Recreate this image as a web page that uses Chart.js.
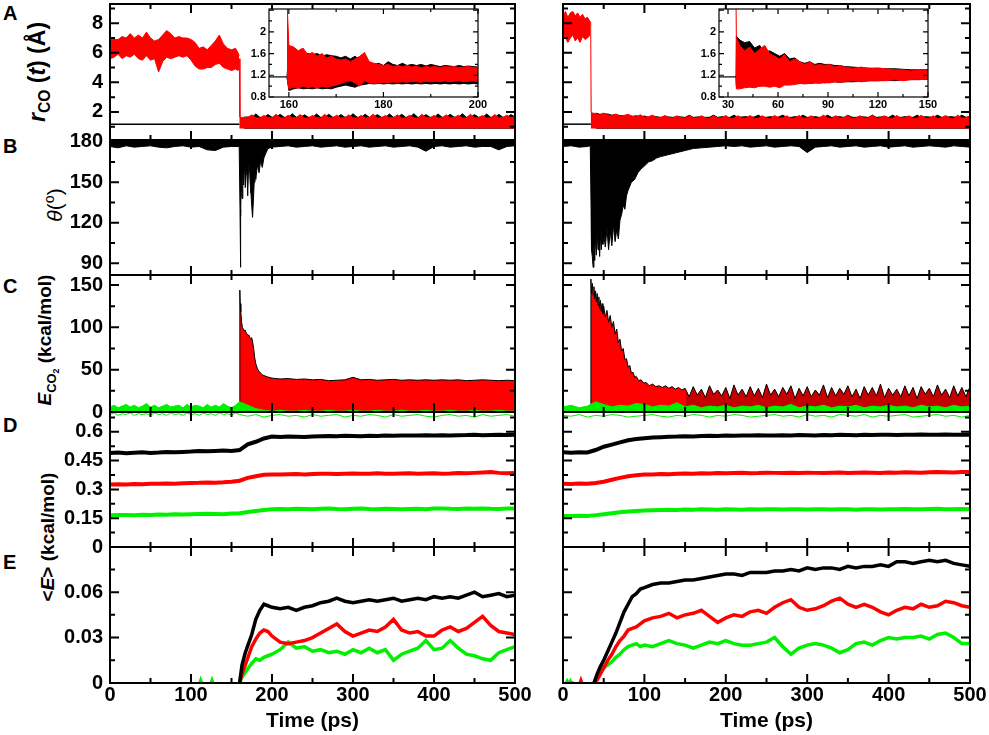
<!DOCTYPE html>
<html lang="en">
<head>
<meta charset="UTF-8">
<script src="https://cdn.jsdelivr.net/npm/chart.js"></script>
<style>
  body { margin:0; background:#fff; width:989px; height:735px; position:relative; overflow:hidden;
         font-family:'Liberation Sans', Arial, Helvetica, sans-serif; color:#000; }
  canvas { position:absolute; }
  .tag { position:absolute; font-weight:bold; font-size:20px; line-height:20px; }
  .ylab { position:absolute; transform:translate(-50%,-50%) rotate(-90deg); white-space:nowrap; font-weight:bold; line-height:1; }
  .ylab sub { font-size:0.68em; line-height:0; vertical-align:-0.35em; }
  .ylab sup { font-size:0.68em; line-height:0; vertical-align:0.55em; }
</style>
</head>
<body>
<div class="tag" style="left:3px;top:3px">A</div>
<div class="tag" style="left:3px;top:136px">B</div>
<div class="tag" style="left:3px;top:276px">C</div>
<div class="tag" style="left:3px;top:415px">D</div>
<div class="tag" style="left:3px;top:552px">E</div>

<div class="ylab" style="left:37px;top:72px;font-size:23px"><i>r</i><sub>CO</sub> (<i>t</i>) (Å)</div>
<div class="ylab" style="left:54px;top:205px;font-size:21px;font-weight:normal"><i>θ</i>(<sup>o</sup>)</div>
<div class="ylab" style="left:45px;top:340px;font-size:19px"><i>E</i><sub>CO<sub>2</sub></sub> (kcal/mol)</div>
<div class="ylab" style="left:47px;top:537px;font-size:19px">&lt;<i>E</i>&gt; (kcal/mol)</div>

<script>
// time grids (ps)
const t5 = [0,5,10,15,20,25,30,35,40,45,50,55,60,65,70,75,80,85,90,95,
  100,105,110,115,120,125,130,135,140,145,150,155,160,165,170,175,180,185,190,195,
  200,205,210,215,220,225,230,235,240,245,250,255,260,265,270,275,280,285,290,295,
  300,305,310,315,320,325,330,335,340,345,350,355,360,365,370,375,380,385,390,395,
  400,405,410,415,420,425,430,435,440,445,450,455,460,465,470,475,480,485,490,495,500];
const t10 = [0,10,20,30,40,50,60,70,80,90,100,110,120,130,140,150,160,170,180,190,
  200,210,220,230,240,250,260,270,280,290,300,310,320,330,340,350,360,370,380,390,
  400,410,420,430,440,450,460,470,480,490,500];

// tick labels
const ticksA = [2,4,6,8];
const ticksB = [90,120,150,180];
const ticksC = [0,50,100,150];
const ticksD = [0,0.15,0.3,0.45,0.6];
const ticksE = [0,0.03,0.06];
const ticksTime = [0,100,200,300,400,500];
const ticksInsetY = [0.8,1.2,1.6,2];
const ticksInsetL = [160,180,200];
const ticksInsetR = [30,60,90,120,150];

// ---- A: r_CO(t), left run ----
const tRcoPreL = t5.slice(0,32).concat([158,159.5]);
const rcoRedHiPreL = [7.1,6.9,6.9,7.1,7.0,7.3,7.0,7.2,7.0,7.4,7.0,6.8,6.9,7.2,7.5,7.3,7.0,7.1,7.0,7.0,
  6.9,6.7,6.3,6.4,6.2,6.5,6.8,7.2,6.6,6.3,6.2,6.3,6.0,5.8];
const rcoRedLoPreL = [5.6,5.7,5.9,5.6,5.8,5.7,5.9,5.6,5.5,5.8,5.5,5.6,4.7,5.4,5.7,5.6,5.7,5.8,5.7,5.8,
  5.5,5.1,4.9,4.9,5.0,5.0,5.2,5.3,5.0,4.9,4.8,4.9,4.8,4.9];
const tRcoPostL = [159.6,160.4].concat(t5.slice(33));
const rcoRedHiPostL = [5.6,1.65,
  1.60,1.62,1.80,1.60,1.58,1.76,1.62,1.60,1.84,1.60,
  1.58,1.78,1.60,1.62,1.82,1.58,1.60,1.76,1.62,1.58,
  1.84,1.60,1.60,1.78,1.58,1.62,1.80,1.60,1.58,1.76,
  1.60,1.62,1.85,1.58,1.60,1.76,1.60,1.62,1.80,1.58,
  1.60,1.78,1.60,1.58,1.84,1.62,1.60,1.76,1.58,1.60,
  1.80,1.60,1.62,1.78,1.58,1.60,1.84,1.60,1.62,1.76,
  1.58,1.60,1.82,1.60,1.62,1.78,1.60,1.66];
const rcoBlkHiPostL = [
  1.64,1.66,1.62,1.86,1.64,1.62,1.82,1.64,1.62,1.84,
  1.64,1.62,1.88,1.64,1.62,1.80,1.64,1.62,1.86,1.64,
  1.62,1.84,1.64,1.62,1.82,1.64,1.62,1.88,1.64,1.62,
  1.84,1.64,1.62,1.82,1.64,1.62,1.86,1.64,1.62,1.84,
  1.64,1.62,1.88,1.64,1.62,1.82,1.64,1.62,1.86,1.64,
  1.62,1.84,1.64,1.62,1.88,1.64,1.62,1.82,1.64,1.62,
  1.86,1.64,1.62,1.84,1.64,1.62,1.82,1.66];

// ---- A: r_CO(t), right run ----
const tRcoPreR = [0,3,6,9,12,15,18,21,24,27,30,33.5];
const rcoRedHiPreR = [8.5,8.8,8.4,8.7,8.8,8.5,8.7,8.4,8.6,8.3,8.4,8.1];
const rcoRedLoPreR = [6.9,7.0,6.7,7.0,7.2,6.8,7.0,6.7,7.1,6.9,7.0,7.2];
const tRcoPostR = [34.0,34.6].concat(t5.slice(8));
const rcoRedHiPostR = [8.1,1.95,
  1.88,1.78,1.92,1.80,1.74,1.86,1.72,1.76,1.84,1.70,
  1.68,1.80,1.64,1.68,1.78,1.62,1.60,1.76,1.62,1.58,
  1.74,1.60,1.58,1.76,1.58,1.60,1.74,1.58,1.56,1.74,
  1.58,1.60,1.76,1.56,1.58,1.74,1.58,1.58,1.76,1.56,
  1.58,1.74,1.58,1.56,1.76,1.58,1.60,1.74,1.56,1.58,
  1.76,1.58,1.58,1.74,1.56,1.60,1.78,1.58,1.56,1.74,
  1.58,1.60,1.76,1.56,1.58,1.74,1.58,1.58,1.78,1.56,
  1.60,1.74,1.58,1.56,1.76,1.58,1.60,1.74,1.56,1.58,
  1.78,1.58,1.58,1.74,1.56,1.60,1.76,1.58,1.56,1.78,
  1.58,1.60,1.74];
const rcoBlkHiPostR = [
  1.92,1.84,1.86,1.86,1.78,1.80,1.76,1.72,1.78,1.70,
  1.74,1.66,1.72,1.64,1.70,1.68,1.63,1.70,1.66,1.63,
  1.68,1.66,1.63,1.78,1.63,1.66,1.68,1.63,1.64,1.78,
  1.63,1.68,1.64,1.63,1.78,1.63,1.66,1.68,1.63,1.66,
  1.78,1.63,1.64,1.68,1.63,1.66,1.78,1.63,1.63,1.68,
  1.64,1.78,1.63,1.66,1.68,1.63,1.64,1.78,1.63,1.66,
  1.68,1.63,1.78,1.64,1.63,1.68,1.66,1.63,1.78,1.63,
  1.66,1.68,1.63,1.78,1.64,1.63,1.68,1.66,1.63,1.78,
  1.63,1.68,1.66,1.63,1.78,1.64,1.63,1.68,1.66,1.63,
  1.78,1.64,1.68];

// ---- A insets ----
const tInsL = [159.6,160,161,162,163,164,165,166,167,168,169,170,171,172,173,174,175,176,177,178,179,
  180,181,182,183,184,185,186,187,188,189,190,191,192,193,194,195,196,197,198,199,200];
const insRedHiL = [2.6,1.75,1.72,1.65,1.7,1.58,1.62,1.55,1.6,1.52,1.55,1.5,1.48,1.5,1.45,1.5,1.55,1.62,1.45,1.42,1.4,
  1.38,1.4,1.36,1.38,1.36,1.38,1.35,1.37,1.34,1.36,1.35,1.36,1.34,1.36,1.35,1.36,1.34,1.35,1.36,1.34,1.35];
const insRedLoL = [1.17,0.95,0.98,0.96,1.0,0.97,0.99,0.96,1.0,0.98,1.0,1.02,1.05,1.08,1.1,1.06,1.0,1.1,1.06,1.05,1.06,
  1.07,1.06,1.08,1.07,1.08,1.07,1.09,1.08,1.07,1.09,1.08,1.09,1.08,1.1,1.08,1.09,1.1,1.08,1.09,1.1,1.08];
const insBlkHiL = [1.17,1.6,1.58,1.6,1.56,1.6,1.58,1.6,1.55,1.58,1.56,1.55,1.52,1.55,1.5,1.55,1.48,1.45,1.42,1.4,1.42,
  1.38,1.45,1.4,1.38,1.42,1.38,1.4,1.38,1.4,1.37,1.4,1.38,1.36,1.38,1.37,1.36,1.38,1.36,1.37,1.36,1.35];
const insBlkLoL = [1.17,0.92,0.95,0.97,0.95,0.96,0.95,0.97,0.95,0.96,0.95,0.98,1.0,1.02,1.0,0.98,1.02,1.03,1.05,1.04,1.05,
  1.04,1.05,1.04,1.05,1.04,1.05,1.04,1.05,1.04,1.05,1.04,1.05,1.04,1.05,1.04,1.05,1.04,1.05,1.04,1.05,1.04];
const tInsR = [34.8,35,37,40,43,46,49,52,55,58,61,64,67,70,73,76,79,82,85,88,91,94,97,
  100,105,110,115,120,125,130,135,140,145,150];
const insRedHiR = [2.6,1.9,1.75,1.65,1.72,1.6,1.68,1.75,1.6,1.55,1.5,1.58,1.45,1.5,1.45,1.4,1.45,1.38,1.4,1.38,1.4,1.35,1.38,
  1.35,1.33,1.35,1.32,1.33,1.32,1.3,1.3,1.28,1.3,1.28];
const insRedLoR = [1.17,0.95,0.95,0.97,0.98,0.97,1.0,1.0,0.98,1.0,0.97,1.02,1.02,1.03,1.05,1.04,1.05,1.06,1.05,1.07,1.06,1.08,1.07,
  1.08,1.1,1.08,1.1,1.1,1.1,1.12,1.1,1.12,1.12,1.13];
const insBlkHiR = [1.17,1.92,1.85,1.8,1.82,1.7,1.75,1.62,1.65,1.6,1.55,1.6,1.5,1.52,1.45,1.42,1.45,1.4,1.42,1.4,1.4,1.38,1.38,
  1.36,1.35,1.34,1.33,1.33,1.32,1.32,1.31,1.3,1.3,1.3];
const insBlkLoR = [1.17,1.0,1.0,1.02,1.0,1.02,1.0,1.03,1.02,1.04,1.03,1.05,1.04,1.05,1.05,1.06,1.05,1.06,1.07,1.06,1.07,1.08,1.07,
  1.08,1.08,1.09,1.1,1.1,1.11,1.1,1.12,1.12,1.12,1.13];

// ---- B: theta, lower edge of the noisy band ----
const tThetaL = [0,10,20,30,40,50,60,70,80,90,100,110,120,130,140,150,159.5,
  160.5,161,161.5,162,163,164,165,166,167,168,169,170,171,172,173,174,175,176,177,178,179,180,
  182,184,186,188,190,192,195].concat(t10.slice(20));
const thetaLoL = [176.5,175.5,177,176,176.5,177,176,175.5,176.5,177,176,176.5,174,173.5,176,176.5,176.5,
  130,87,125,150,138,160,148,165,146,156,162,140,160,164,150,142,132,124,136,150,158,152,
  163,157,166,161,168,171,175,
  176,176.5,177,176,176.5,177,176,176.5,177,176,
  176.5,177,176,176.5,177,176,176.5,177,176,173,
  176.5,177,176,176.5,177,176,176.5,176.5,174,176.5,177];
const tThetaR = [0,10,20,30,33.5,
  34.5,35,36,37,38,39,40,41,42,43,44,45,46,47,48,49,50,
  52,54,56,58,60,62,64,66,68,70,72,74,76,78,80,
  84,88,92,96,100,105,110,115,120,130,140,150,160,170,180,190].concat(t10.slice(20));
const thetaLoR = [176.5,177,176,176.5,177,
  130,100,95,87,105,92,110,96,115,100,108,95,112,100,118,104,112,
  102,116,100,114,103,118,106,115,108,122,126,133,130,140,144,
  150,152,157,160,162,165,166,168,169,170.5,172,173.5,175,175.5,176,176.5,
  177,176.5,177,176,176.5,177,176,176.5,177,176.5,
  172,176,176.5,177,176,176.5,177,176,176.5,177,
  176,176.5,177,176,176.5,177,176.5,176,177,176.5,176];

// ---- C: E_CO2 ----
const tEco2L = [159.8,160.3,160.8,161.5,162.5,163.5,164.5,165.5,166.5,167.5,168.5,169.5,170.5,171.5,172.5,
  173.5,174.5,175.5,176.5,177.5,178.5,180,182,184,186,188,190,193,196,200].concat(t10.slice(21));
const eco2TopL = [0,144,128,118,106,100,98,96,97,95,93,92,91,90,88,87,88,86,86,74,65,57,51,48,46,44,43,42,41,40,
  39,39.5,38.5,39,38,38.5,37,37.5,38,41,38,38.5,37.5,38,38.5,37.5,38,37.5,38,37.5,38,37.5,38,37,37.5,38,37.5,37,37.5,37];
const tEco2R = [33.8,34.3,35,36,37,38,39,40,41,42,43,44,45,46,47,48,49,50,
  52,54,56,58,60,62,64,66,68,70,72,74,76,78,80,82,84,86,88,90,
  93,96,99,102,106,110,114,118,122,126,130,134,138,142,146,150];
const eco2TopR = [0,157,140,152,138,148,134,143,130,140,126,136,122,132,119,128,116,125,
  112,120,106,114,100,107,92,98,82,86,72,75,62,63,53,55,46,47,41,42,
  37,38,34,35,31,33,30,31,29,31,28,30,27,29,26,28];
const tEco2TailR = t5.slice(30);
const eco2TailR = [28,18,30,20,27,17,31,21,26,19, 29,16,32,20,27,18,30,19,28,17,
  33,20,27,18,29,21,31,16,28,19, 30,18,26,20,32,17,29,19,28,21,
  31,18,27,16,30,20,29,19,33,17, 28,20,27,18,31,19,29,16,30,21,
  28,18,32,20,27,17,31,19,29,18, 30];
const tGreenCL = t5.slice(0,33).concat(t10.slice(17));
const greenHiCL = [6,8,5,7,9,6,8,5,7,10,6,8,5,7,9,6,7,8,5,9,6,8,7,5,9,6,8,6,10,7,5,8,12,
  8,4,2,1,2,1,1,2,1,1,2,1,1,2,1,1,2,1,1,2,1,1,2,1,1,2,1,1,2,1,1,2,1,1];
const greenLoCL = [-3,-1,-4,-2,-3,-1,-4,-2,-3,-2,-4,-1,-3,-2,-4,-1,-3,-2,-4,-1,-3,-2,-4,-1,-3,-2,-4,-1,-3,-2,-4,-1,-3,
  -5,-3,-6,-4,-3,-5,-4,-6,-3,-5,-4,-3,-6,-4,-5,-3,-4,-6,-3,-5,-4,-3,-5,-6,-4,-3,-5,-4,-6,-3,-5,-4,-3,-5];
const greenHiCR = [6,8,5,7,12,9,6,8,7,10, 9,6,8,7,11,6,8,5,7,6, 8,5,7,6,8,5,7,6,9,5,
  7,6,8,5,7,6,8,5,7,6, 8,6,7,5,8,6,7,5,8,6, 7];
const greenLoCR = [-4,-5,-3,-6,-4,-5,-3,-4,-6,-5, -4,-3,-5,-6,-4,-5,-3,-4,-6,-4, -5,-3,-4,-6,-5,-4,-3,-5,-4,-6,
  -3,-5,-4,-6,-3,-4,-5,-3,-6,-4, -5,-4,-3,-6,-5,-4,-3,-5,-4,-6, -4];

// ---- D: three averaged energies ----
const dBlackL = [0.490,0.492,0.488,0.491,0.493,0.490,0.492,0.495,0.493,0.495,
  0.497,0.500,0.498,0.500,0.502,0.500,0.505,0.535,0.548,0.565,
  0.575,0.573,0.575,0.574,0.573,0.576,0.577,0.578,0.577,0.579,
  0.578,0.577,0.579,0.578,0.580,0.579,0.580,0.581,0.580,0.582,
  0.581,0.582,0.580,0.582,0.583,0.585,0.582,0.583,0.584,0.583,0.584];
const dRedL = [0.325,0.327,0.326,0.328,0.327,0.329,0.330,0.331,0.330,0.332,
  0.333,0.334,0.336,0.335,0.337,0.340,0.345,0.360,0.368,0.376,
  0.378,0.377,0.379,0.380,0.378,0.380,0.382,0.381,0.380,0.382,
  0.383,0.381,0.382,0.384,0.382,0.381,0.383,0.384,0.382,0.383,
  0.384,0.382,0.383,0.385,0.384,0.386,0.388,0.390,0.386,0.384,0.385];
const dGreenL = [0.165,0.166,0.167,0.165,0.168,0.167,0.169,0.168,0.170,0.169,
  0.171,0.172,0.173,0.172,0.171,0.174,0.176,0.182,0.188,0.193,
  0.196,0.198,0.197,0.199,0.198,0.197,0.199,0.200,0.198,0.197,
  0.199,0.200,0.198,0.197,0.199,0.198,0.196,0.198,0.199,0.197,
  0.200,0.201,0.199,0.198,0.200,0.199,0.201,0.199,0.198,0.200,0.201];
const dBlackR = [0.493,0.491,0.494,0.492,0.505,0.522,0.533,0.545,0.556,0.562,
  0.566,0.570,0.572,0.574,0.575,0.577,0.576,0.578,0.579,0.578,
  0.580,0.579,0.581,0.580,0.582,0.581,0.580,0.582,0.581,0.583,
  0.582,0.581,0.583,0.582,0.584,0.583,0.582,0.584,0.583,0.585,
  0.584,0.583,0.585,0.584,0.586,0.585,0.584,0.586,0.585,0.584,0.585];
const dRedR = [0.330,0.328,0.331,0.329,0.333,0.340,0.350,0.360,0.368,0.374,
  0.377,0.378,0.380,0.379,0.381,0.383,0.382,0.384,0.383,0.385,
  0.384,0.385,0.386,0.384,0.385,0.387,0.386,0.385,0.387,0.386,
  0.387,0.386,0.385,0.387,0.388,0.386,0.387,0.388,0.387,0.386,
  0.388,0.387,0.389,0.388,0.387,0.389,0.390,0.389,0.388,0.390,0.391];
const dGreenR = [0.162,0.161,0.163,0.162,0.166,0.171,0.176,0.181,0.185,0.188,
  0.190,0.192,0.193,0.194,0.193,0.195,0.194,0.196,0.195,0.194,
  0.196,0.195,0.194,0.196,0.195,0.197,0.196,0.195,0.197,0.196,
  0.195,0.197,0.196,0.195,0.197,0.196,0.194,0.196,0.197,0.195,
  0.197,0.196,0.198,0.197,0.196,0.198,0.199,0.197,0.196,0.198,0.197];

// ---- E ----
const tEL = [160,163,167,171,175,180,185,190,195,200,210,220,230,240,250,260,270,280,290,300,
  310,320,330,340,350,360,370,380,390,400,410,420,430,440,450,460,470,480,490,500];
const eBlackL = [0,0.012,0.02,0.026,0.032,0.042,0.048,0.052,0.051,0.05, 0.049,0.05,0.048,0.05,0.051,0.053,0.054,0.056,0.054,0.053,
  0.054,0.055,0.054,0.055,0.056,0.054,0.055,0.056,0.055,0.057, 0.056,0.057,0.056,0.058,0.06,0.057,0.058,0.059,0.057,0.058];
const eRedL = [0,0.006,0.012,0.018,0.024,0.029,0.033,0.035,0.034,0.031, 0.027,0.026,0.027,0.028,0.03,0.033,0.036,0.039,0.034,0.031,
  0.033,0.035,0.034,0.037,0.042,0.035,0.033,0.034,0.031,0.031, 0.035,0.037,0.034,0.036,0.04,0.044,0.038,0.034,0.033,0.032];
const eGreenL = [0,0.004,0.007,0.01,0.013,0.016,0.015,0.017,0.018,0.019, 0.022,0.027,0.023,0.024,0.021,0.022,0.02,0.021,0.019,0.022,
  0.02,0.023,0.02,0.022,0.015,0.019,0.021,0.023,0.028,0.022, 0.023,0.028,0.023,0.019,0.018,0.016,0.015,0.02,0.022,0.024];
const tBlipL = [110,112,114,115,124,126,128];
const eBlipL = [0,0.003,0,null,0,0.003,0];
const tER = [38,42,46,50,55,60,65,70,75,80,85,90,95,100,110,120,130,140,150,160,170,180,190,200,
  210,220,230,240,250,260,270,280,290,300,310,320,330,340,350,360,370,380,390,400,
  410,420,430,440,450,460,470,480,490,500];
const eBlackR = [0,0.006,0.011, 0.015,0.021,0.027,0.033,0.04,0.047,0.052,0.057,0.059,0.062,0.063,
  0.065,0.066,0.066,0.067,0.068,0.068,0.069,0.07,0.071,0.072, 0.072,0.071,0.073,0.073,0.073,0.074,0.074,0.075,0.074,0.076,
  0.075,0.076,0.076,0.075,0.077,0.076,0.077,0.077,0.078,0.077, 0.08,0.08,0.079,0.08,0.081,0.08,0.081,0.079,0.078,0.077];
const eRedR = [0,0.002,0.006, 0.01,0.015,0.019,0.024,0.028,0.031,0.035,0.036,0.037,0.039,0.041,
  0.043,0.044,0.046,0.043,0.045,0.046,0.048,0.044,0.04,0.043, 0.045,0.044,0.047,0.048,0.046,0.05,0.053,0.055,0.05,0.048,
  0.049,0.051,0.054,0.056,0.052,0.05,0.052,0.05,0.047,0.045, 0.048,0.05,0.049,0.052,0.05,0.051,0.054,0.053,0.051,0.05];
const eGreenR = [0,0.004,0.008, 0.01,0.012,0.014,0.017,0.019,0.022,0.024,0.025,0.026,0.024,0.025,
  0.024,0.026,0.028,0.026,0.025,0.023,0.025,0.027,0.026,0.028, 0.026,0.025,0.025,0.026,0.027,0.03,0.024,0.019,0.023,0.025,
  0.026,0.025,0.023,0.02,0.022,0.026,0.027,0.025,0.028,0.03, 0.029,0.03,0.03,0.031,0.029,0.032,0.033,0.03,0.026,0.026];
const tBlipGR = [3,5,7,9,11,13];
const eBlipGR = [0,0.002,0,0.002,0,0.001];
const tBlipRR = [20,22,24];
const eBlipRR = [0,0.003,0];

// ------------------------------------------------------------
Chart.defaults.font.family = "'Liberation Sans', Arial, Helvetica, sans-serif";
Chart.defaults.font.weight = 'bold';
Chart.defaults.color = '#000';

const RED = '#ff0000', GREEN = '#00f000', BLACK = '#000000';

function tickValues(min, max, major, minor) {
  const out = [];
  const k0 = Math.ceil(min / minor - 1e-6), k1 = Math.floor(max / minor + 1e-6);
  for (let k = k0; k <= k1; k++) {
    const v = k * minor, r = v / major;
    out.push({ v: v, major: Math.abs(r - Math.round(r)) < 1e-6 });
  }
  return out;
}

// frame round the plot and inward ticks on all four sides
const frameTicks = {
  id: 'frameTicks',
  beforeDraw(chart, args, o) {
    if (!o.bg) return;
    const a = chart.chartArea, ctx = chart.ctx;
    ctx.save(); ctx.fillStyle = o.bg;
    ctx.fillRect(a.left, a.top, a.right - a.left, a.bottom - a.top);
    ctx.restore();
  },
  afterDraw(chart, args, o) {
    const ctx = chart.ctx, a = chart.chartArea, x = chart.scales.x, y = chart.scales.y;
    ctx.save();
    ctx.strokeStyle = '#000';
    ctx.lineWidth = o.lw;
    ctx.beginPath();
    tickValues(x.min, x.max, o.xMajor, o.xMinor).forEach(t => {
      const p = x.getPixelForValue(t.v), len = t.major ? o.major : o.minor;
      ctx.moveTo(p, a.bottom); ctx.lineTo(p, a.bottom - len);
      ctx.moveTo(p, a.top); ctx.lineTo(p, a.top + len);
    });
    tickValues(y.min, y.max, o.yMajor, o.yMinor).forEach(t => {
      const p = y.getPixelForValue(t.v), len = t.major ? o.major : o.minor;
      ctx.moveTo(a.left, p); ctx.lineTo(a.left + len, p);
      ctx.moveTo(a.right, p); ctx.lineTo(a.right - len, p);
    });
    ctx.stroke();
    ctx.strokeRect(a.left, a.top, a.right - a.left, a.bottom - a.top);
    ctx.restore();
  }
};
Chart.register(frameTicks);

function xy(t, v) { return t.map((x, i) => ({ x: x, y: v[i] })); }
function line(t, v, color, w, more) {
  return Object.assign({ data: xy(t, v), borderColor: color, backgroundColor: color, borderWidth: w,
    pointRadius: 0, fill: false, tension: 0 }, more || {});
}
function band(t, hi, lo, color, more) {
  return [line(t, hi, color, 1, Object.assign({ fill: '+1' }, more || {})), line(t, lo, color, 1, more || {})];
}

function makeChart(o) {
  const c = document.createElement('canvas');
  c.width = o.w; c.height = o.h;
  c.style.left = o.left + 'px'; c.style.top = o.top + 'px';
  c.style.width = o.w + 'px'; c.style.height = o.h + 'px';
  document.body.appendChild(c);
  const sets = [].concat(...o.sets);
  sets.forEach((d, i) => { d.order = sets.length - i; });
  const xScale = {
    type: 'linear', min: o.x[0], max: o.x[1], display: !!o.xTicks,
    grid: { display: false, drawTicks: false }, border: { display: false },
    ticks: { autoSkip: false, maxRotation: 0, padding: o.xPad || 0, font: { size: o.fs, weight: 'bold' },
      callback: v => String(v) },
    title: { display: !!o.xTitle, text: o.xTitle || '', font: { size: 21, weight: 'bold' },
      padding: { top: 0, bottom: 1 } }
  };
  if (o.xTicks) {
    xScale.afterFit = s => { s.height = o.xH; };
    xScale.afterBuildTicks = s => { s.ticks = o.xTicks.map(v => ({ value: v })); };
  }
  return new Chart(c, {
    type: 'line',
    data: { datasets: sets },
    options: {
      responsive: false, animation: false, events: [],
      layout: { padding: { left: 0, right: o.padR, top: o.padT, bottom: o.padB } },
      plugins: { legend: { display: false }, tooltip: { enabled: false },
        frameTicks: { xMajor: o.xStep[0], xMinor: o.xStep[1], yMajor: o.yStep[0], yMinor: o.yStep[1],
          lw: o.lw, major: o.tl[0], minor: o.tl[1], bg: o.bg } },
      scales: {
        x: xScale,
        y: {
          type: 'linear', min: o.y[0], max: o.y[1],
          afterFit: s => { s.width = o.axisW; },
          afterBuildTicks: s => { s.ticks = o.yTicks.map(v => ({ value: v })); },
          grid: { display: false, drawTicks: false }, border: { display: false },
          ticks: { display: o.yLabels, autoSkip: false, padding: o.yPad, font: { size: o.fs, weight: 'bold' },
            callback: v => String(v) }
        }
      }
    }
  });
}

const COLS = {
  L: { left: 0, w: 540, axisW: 110, padR: 25, yLabels: true },
  R: { left: 530, w: 459, axisW: 33, padR: 19, yLabels: false }
};
const ROWS = {
  A: { top: -16, h: 176, padB: 20, y: [0.1, 9.3], yTicks: ticksA, yStep: [2, 1] },
  B: { top: 120, h: 175, padB: 20, y: [81.3, 181.3], yTicks: ticksB, yStep: [30, 15] },
  C: { top: 255, h: 177, padB: 20, y: [0, 161.8], yTicks: ticksC, yStep: [50, 25] },
  D: { top: 392, h: 175, padB: 20, y: [0, 0.703], yTicks: ticksD, yStep: [0.15, 0.075] },
  E: { top: 527, h: 208, padB: 0, y: [0, 0.0898], yTicks: ticksE, yStep: [0.03, 0.015],
       xTicks: ticksTime, xH: 52, xTitle: 'Time (ps)' }
};

function panel(col, row, sets) {
  const c = COLS[col], r = ROWS[row];
  makeChart(Object.assign({ padT: 20, x: [0, 500], xStep: [100, 50], xPad: 0, yPad: 7, fs: 20,
    lw: 2, tl: [9, 5], sets: sets }, c, r));
}

const clipGreen = { clip: { left: 0, top: 0, right: 0, bottom: 7 } };

panel('L', 'A', [
  line(t5.slice(33), rcoBlkHiPostL, BLACK, 1, { fill: { value: 0.86 } }),
  line([0, 159.8], [1.17, 1.17], BLACK, 1.5),
  band(tRcoPreL, rcoRedHiPreL, rcoRedLoPreL, RED),
  line(tRcoPostL, rcoRedHiPostL, RED, 1, { fill: { value: 0.88 } })
]);
panel('R', 'A', [
  line(t5.slice(8), rcoBlkHiPostR, BLACK, 1, { fill: { value: 0.86 } }),
  line([0, 34.3], [1.17, 1.17], BLACK, 1.5),
  band(tRcoPreR, rcoRedHiPreR, rcoRedLoPreR, RED),
  line(tRcoPostR, rcoRedHiPostR, RED, 1, { fill: { value: 0.88 } })
]);
panel('L', 'B', [ line(tThetaL, thetaLoL, BLACK, 1, { fill: { value: 180.6 } }) ]);
panel('R', 'B', [ line(tThetaR, thetaLoR, BLACK, 1, { fill: { value: 180.6 } }) ]);
panel('L', 'C', [
  line(tEco2L, eco2TopL, BLACK, 1, { fill: 'origin', backgroundColor: RED }),
  band(tGreenCL, greenHiCL, greenLoCL, GREEN, clipGreen)
]);
panel('R', 'C', [
  line(tEco2R, eco2TopR, BLACK, 1, { fill: 'origin', backgroundColor: RED }),
  line(tEco2TailR, eco2TailR, BLACK, 1, { fill: 'origin', backgroundColor: '#c40000' }),
  band(t10, greenHiCR, greenLoCR, GREEN, clipGreen)
]);
panel('L', 'D', [
  line(t10, dGreenL, GREEN, 4), line(t10, dRedL, RED, 4), line(t10, dBlackL, BLACK, 4)
]);
panel('R', 'D', [
  line(t10, dGreenR, GREEN, 4), line(t10, dRedR, RED, 4), line(t10, dBlackR, BLACK, 4)
]);
panel('L', 'E', [
  line(tBlipL, eBlipL, GREEN, 2),
  line(tEL, eGreenL, GREEN, 3.5), line(tEL, eRedL, RED, 3.5), line(tEL, eBlackL, BLACK, 3.5)
]);
panel('R', 'E', [
  line(tBlipGR, eBlipGR, GREEN, 2), line(tBlipRR, eBlipRR, RED, 2),
  line(tER, eGreenR, GREEN, 3.5), line(tER, eRedR, RED, 3.5), line(tER, eBlackR, BLACK, 3.5)
]);

// insets of panel A
const insetBase = { top: -11, h: 123, w: 270, axisW: 43, padR: 18, padT: 20, padB: 0, xH: 15, xPad: 1, yPad: 3,
  fs: 11, y: [0.8, 2.42], yTicks: ticksInsetY, yStep: [0.4, 0.2], yLabels: true, lw: 1.2, tl: [5, 3], bg: '#fff' };
makeChart(Object.assign({}, insetBase, {
  left: 226, x: [155.8, 200], xTicks: ticksInsetL, xStep: [20, 10],
  sets: [ line([155.8, 159.6], [1.17, 1.17], BLACK, 1.2),
    band(tInsL, insBlkHiL, insBlkLoL, BLACK), band(tInsL, insRedHiL, insRedLoL, RED) ]
}));
makeChart(Object.assign({}, insetBase, {
  left: 676, x: [24.6, 150], xTicks: ticksInsetR, xStep: [30, 15],
  sets: [ line([24.6, 34.8], [1.17, 1.17], BLACK, 1.2),
    band(tInsR, insBlkHiR, insBlkLoR, BLACK), band(tInsR, insRedHiR, insRedLoR, RED) ]
}));
</script>
</body>
</html>
